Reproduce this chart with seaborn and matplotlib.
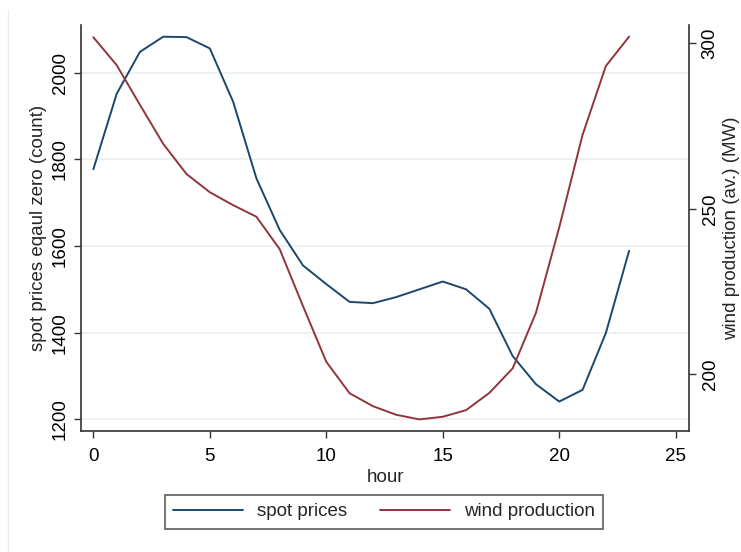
import matplotlib
matplotlib.use("Agg")
import matplotlib.pyplot as plt
from matplotlib.lines import Line2D
import seaborn as sns
import pandas as pd

hours = list(range(24))
spot_prices = [1777, 1951, 2048, 2083, 2082, 2056, 1933, 1756, 1637, 1555, 1512, 1471,
               1468, 1482, 1500, 1518, 1500, 1455, 1346, 1281, 1241, 1268, 1399, 1589]
wind_production = [301.8, 293.4, 281.4, 269.6, 260.5, 255.0, 251.1, 247.6, 237.8, 220.6,
                   203.8, 194.3, 190.4, 187.8, 186.4, 187.2, 189.2, 194.4, 201.8, 218.6,
                   244.4, 272.3, 293.1, 302.0]
x_ticks = [0, 5, 10, 15, 20, 25]
left_ticks = [1200, 1400, 1600, 1800, 2000]
right_ticks = [200, 250, 300]

df = pd.DataFrame({"hour": hours, "spot": spot_prices, "wind": wind_production})

sns.set_style("white")
plt.rcParams["font.family"] = ["Liberation Sans", "DejaVu Sans"]
fs = 13.5
navy = "#1a476f"
maroon = "#90353b"
axcol = "#333333"

fig = plt.figure(figsize=(7.41, 5.52), dpi=100)
ax = fig.add_axes([81 / 741, 1 - 431 / 552, (689 - 81) / 741, (431 - 25) / 552])
ax2 = ax.twinx()

sns.lineplot(data=df, x="hour", y="spot", ax=ax, color=navy, linewidth=1.4, label="spot prices", legend=False)
sns.lineplot(data=df, x="hour", y="wind", ax=ax2, color=maroon, linewidth=1.4, label="wind production", legend=False)

ax.set_xlim(-0.53, 25.57)
ax.set_ylim(1173, 2110)
ax2.set_ylim(182.9, 305.5)

ax.set_xticks(x_ticks)
ax.set_yticks(left_ticks)
ax2.set_yticks(right_ticks)
ax.set_xticklabels([str(t) for t in x_ticks], fontsize=fs)
ax.set_yticklabels([str(t) for t in left_ticks], fontsize=fs, rotation=90, va="center")
ax2.set_yticklabels([str(t) for t in right_ticks], fontsize=fs, rotation=90, va="center")

ax.grid(axis="y", color="#e9f0f2", linewidth=1.2)
ax.set_axisbelow(True)

for a in (ax, ax2):
    a.spines["top"].set_visible(False)
    for s in a.spines.values():
        s.set_color(axcol)
        s.set_linewidth(1.2)
    a.tick_params(direction="out", length=5, width=1.0, color=axcol, labelcolor="black", pad=3)
ax2.spines["left"].set_visible(False)
ax2.spines["bottom"].set_visible(False)
ax.spines["right"].set_visible(False)
ax.tick_params(axis="y", left=True, right=False, pad=4)
ax.tick_params(axis="x", bottom=True, pad=7)
ax2.tick_params(axis="y", right=True, pad=4)

ax.set_xlabel("hour", fontsize=fs, labelpad=3)
ax.set_ylabel("spot prices eqaul zero (count)", fontsize=fs, labelpad=3)
ax2.set_ylabel("wind production (av.) (MW)", fontsize=fs, labelpad=3)

handles = [Line2D([0], [0], color=navy, lw=1.4), Line2D([0], [0], color=maroon, lw=1.4)]
leg = fig.legend(handles, ["spot prices", "wind production"], loc="center",
                 bbox_to_anchor=(384 / 741, 1 - 511.5 / 552), ncol=2, fontsize=fs,
                 frameon=True, fancybox=False, handlelength=3.7, handletextpad=0.75,
                 columnspacing=1.8, borderpad=0.45, borderaxespad=0)
leg.get_frame().set_edgecolor("#333333")
leg.get_frame().set_linewidth(1.2)

fig.add_artist(Line2D([7.5 / 741, 7.5 / 741], [0, 1 - 10 / 552], transform=fig.transFigure,
                      color="#ececec", lw=1))

fig.savefig("out.png", dpi=100)
